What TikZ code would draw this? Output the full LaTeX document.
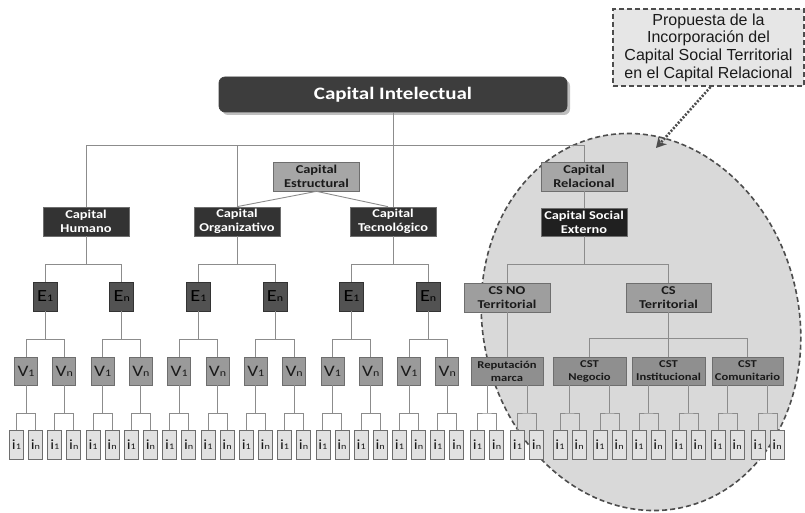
\documentclass[tikz,border=0pt]{standalone}
\usepackage{fontspec}
\setmainfont{Carlito}
\newfontfamily\bxf[FakeStretch=1.2]{Carlito}
\newfontfamily\callf{Liberation Sans}
\usetikzlibrary{arrows.meta,shadows}
\definecolor{linec}{HTML}{8C8C8C}
\definecolor{bord}{HTML}{6E6E6E}
\definecolor{intel}{HTML}{3D3D3D}
\definecolor{darkc}{HTML}{333333}
\definecolor{blackc}{HTML}{202020}
\definecolor{midc}{HTML}{A6A6A6}
\definecolor{csc}{HTML}{9E9E9E}
\definecolor{cstc}{HTML}{8F8F8F}
\definecolor{ec}{HTML}{525252}
\definecolor{vc}{HTML}{9A9A9A}
\definecolor{ic}{HTML}{E1E1E1}
\definecolor{ellc}{HTML}{D9D9D9}
\definecolor{dashc}{HTML}{4D4D4D}
\definecolor{notec}{HTML}{E6E6E6}
\definecolor{txtc}{HTML}{1A1A1A}
\newcommand\evlab[2]{#1{\fontsize{10}{10}\selectfont #2}}
\newcommand\ilab[1]{i{\fontsize{8.5}{8.5}\selectfont #1}}
\begin{document}
\begin{tikzpicture}[x=1pt,y=-1pt,
  conn/.style={draw=linec,line width=0.9pt},
  base/.style={rectangle,inner sep=0pt,align=center,draw=bord,line width=0.7pt},
  intelbox/.style={base,fill=intel,draw=intel,rounded corners=6pt,text=white,
    font=\bxf\bfseries\fontsize{17.5}{20}\selectfont,minimum width=348pt,minimum height=35pt,
    drop shadow={shadow xshift=3pt,shadow yshift=-3pt,fill=black,opacity=0.25}},
  darkbox/.style={base,fill=darkc,text=white,font=\bxf\bfseries\fontsize{12}{14}\selectfont,
    minimum width=86pt,minimum height=29pt},
  blackbox/.style={darkbox,fill=blackc},
  midbox/.style={base,fill=midc,text=txtc,font=\bxf\bfseries\fontsize{12}{14}\selectfont,
    minimum width=86pt,minimum height=29pt},
  csbox/.style={midbox,fill=csc},
  cstbox/.style={base,fill=cstc,text=txtc,font=\bxf\bfseries\fontsize{10.5}{13}\selectfont,
    minimum width=72pt,minimum height=28pt},
  ebox/.style={base,fill=ec,draw=darkc,text=black,font=\bxf\fontsize{17}{17}\selectfont,
    minimum width=24pt,minimum height=29pt},
  vbox/.style={base,fill=vc,text=txtc,font=\bxf\fontsize{16}{16}\selectfont,
    minimum width=23pt,minimum height=28pt},
  ibox/.style={base,fill=ic,text=txtc,font=\bxf\fontsize{14}{14}\selectfont,
    minimum width=14pt,minimum height=29pt},
  ellstyle/.style={fill=ellc,draw=dashc,line width=1.6pt,dash pattern=on 5pt off 3pt},
  notestyle/.style={rectangle,fill=notec,draw=dashc,line width=2pt,dash pattern=on 5pt off 3pt,
    align=center,inner sep=0pt,minimum width=191pt,minimum height=77pt,text=txtc,
    font=\callf\fontsize{16}{17.7}\selectfont},
  notearrow/.style={draw=dashc,line width=2.6pt,dash pattern=on 2pt off 1.6pt,
    -{Stealth[length=10pt,width=11pt,inset=3pt]}}
]
\useasboundingbox (0,0) rectangle (805,513);
% highlighted region
\draw[ellstyle,rotate around={13:(641,322)}] (641,322) ellipse [x radius=158pt,y radius=190pt];

% upper nodes
\node[intelbox] (CI) at (393,94.5) {Capital Intelectual};
\node[darkbox] (CH) at (86,221.5) {Capital\\Humano};
\node[darkbox] (CO) at (237,221.5) {Capital\\Organizativo};
\node[darkbox] (CT) at (393,221.5) {Capital\\Tecnológico};
\node[midbox] (CE) at (316.5,176.5) {Capital\\Estructural};
\node[midbox] (CR) at (584,176.5) {Capital\\Relacional};
\node[blackbox,minimum height=28pt] (CSE) at (584,222) {Capital Social\\Externo};
\node[csbox] (CSNO) at (507,297.5) {CS NO\\Territorial};
\node[csbox,minimum width=85pt] (CSTE) at (668.5,297.5) {CS\\Territorial};
\node[cstbox] (Rep) at (507,371) {Reputación\\marca};
\node[cstbox,minimum width=73pt] (CSTN) at (589.5,371) {CST\\Negocio};
\node[cstbox,minimum width=73pt] (CSTI) at (668.5,371) {CST\\Institucional};
\node[cstbox,minimum width=71pt] (CSTC) at (747.5,371) {CST\\Comunitario};

% E level
\foreach \j in {0,...,5}{
  \pgfmathsetmacro\ex{26+38.3*(2*\j+0.5)}
  \node[ebox] (E\j) at (\ex,296.5) {\ifodd\j \evlab{E}{n}\else\evlab{E}{1}\fi};
}
% V level and i level (left)
\foreach \k in {0,...,11}{
  \pgfmathsetmacro\vx{26+38.3*\k}
  \pgfmathsetmacro\iax{\vx-9.5}
  \pgfmathsetmacro\ibx{\vx+9.5}
  \node[vbox] (V\k) at (\vx,371) {\ifodd\k \evlab{V}{n}\else\evlab{V}{1}\fi};
  \node[ibox] (Ia\k) at (\iax,444.5) {\ilab{1}};
  \node[ibox] (Ib\k) at (\ibx,444.5) {\ilab{n}};
  \draw[conn] (V\k.south) -- ++(0,28) -| (Ia\k.north);
  \draw[conn] (V\k.south) -- ++(0,28) -| (Ib\k.north);
}
% i level (right)
\foreach \m/\px/\bx in {12/487/Rep,13/527/Rep,14/569.5/CSTN,15/609.5/CSTN,
                       16/648.5/CSTI,17/688.5/CSTI,18/727.5/CSTC,19/767.5/CSTC}{
  \pgfmathsetmacro\iax{\px-9.5}
  \pgfmathsetmacro\ibx{\px+9.5}
  \node[ibox] (Ia\m) at (\iax,444.5) {\ilab{1}};
  \node[ibox] (Ib\m) at (\ibx,444.5) {\ilab{n}};
  \coordinate (M\m) at (\px,413);
  \draw[conn] (\bx.south -| M\m) -- (M\m);
  \draw[conn] (Ia\m.north) |- (M\m) -| (Ib\m.north);
}

% connectors
\coordinate (busL) at (86,145);
\coordinate (busR) at (584,145);
\draw[conn] (CH.north) -- (busL) -- (busR) -- (CR.north);
\draw[conn] (CO.north) -- (CO.north |- busL);
\draw[conn] (CI.south) -- (CT.north);
\draw[conn] (CE.south) -- (CO.north);
\draw[conn] (CE.south) -- ([xshift=-5pt]CT.north);
\foreach \p/\a/\b in {CH/0/1,CO/2/3,CT/4/5}{
  \draw[conn] (\p.south) -- ++(0,28) -| (E\a.north);
  \draw[conn] (\p.south) -- ++(0,28) -| (E\b.north);
}
\foreach \j in {0,...,5}{
  \pgfmathtruncatemacro\ka{2*\j}
  \pgfmathtruncatemacro\kb{2*\j+1}
  \draw[conn] (E\j.south) -- ++(0,28) -| (V\ka.north);
  \draw[conn] (E\j.south) -- ++(0,28) -| (V\kb.north);
}
\draw[conn] (CR.south) -- (CSE.north);
\draw[conn] (CSE.south) -- ++(0,28) -| (CSNO.north);
\draw[conn] (CSE.south) -- ++(0,28) -| (CSTE.north);
\draw[conn] (CSNO.south) -- (Rep.north);
\draw[conn] (CSTE.south) -- ++(0,26) -| (CSTN.north);
\draw[conn] (CSTE.south) -- (CSTI.north);
\draw[conn] (CSTE.south) -- ++(0,26) -| (CSTC.north);

% proposal note
\node[notestyle] (note) at (708.5,47.5) {Propuesta de la\\Incorporación del\\Capital Social Territorial\\en el Capital Relacional};
\coordinate (tip) at (656,148);
\draw[notearrow] ([xshift=2pt]note.south) -- (tip);
\end{tikzpicture}
\end{document}
